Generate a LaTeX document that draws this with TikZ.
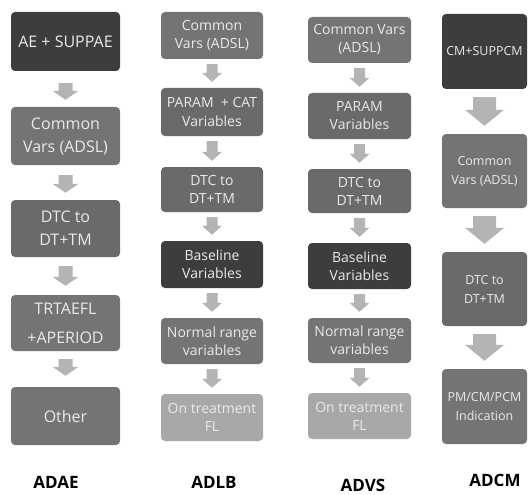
\documentclass[tikz,border=0pt]{standalone}
\usepackage{fontspec}
\setmainfont{Open Sans}
\usetikzlibrary{calc}
\definecolor{darkbox}{HTML}{3D3D3D}
\definecolor{midbox}{HTML}{747474}
\definecolor{midboxb}{HTML}{6A6A6A}
\definecolor{lightbox}{HTML}{A8A8A8}
\definecolor{arrowc}{HTML}{B4B4B4}
\definecolor{boxtext}{HTML}{EAEAEA}
\newcommand\barrow[7]{%
  \fill[arrowc] let \p1=(#1.south), \p2=(#2.north) in
    (\x1-#5,\y1-#3) -- (\x1+#5,\y1-#3) -- (\x1+#5,\y2+#4+#7) -- (\x1+#6,\y2+#4+#7)
    -- (\x1,\y2+#4) -- (\x1-#6,\y2+#4+#7) -- (\x1-#5,\y2+#4+#7) -- cycle;}
\begin{document}
\begin{tikzpicture}[x=1pt,y=-1pt,
  box/.style={rounded corners=4pt, inner sep=1pt, align=center, text=boxtext, draw=none},
  colA/.style={box, minimum width=109pt, font=\fontsize{16}{23}\selectfont},
  colB/.style={box, minimum width=102pt, font=\fontsize{14}{18}\selectfont},
  colC/.style={box, minimum width=103pt, font=\fontsize{14}{18}\selectfont},
  colD/.style={box, minimum width=85pt, font=\fontsize{12.5}{19}\selectfont},
  lbl/.style={font=\bfseries\fontsize{17}{20}\selectfont, text=black, inner sep=0pt}]
\useasboundingbox (0,0) rectangle (528,495);
% Column ADAE
\node[colA, fill=darkbox, minimum height=59pt] (a1) at (65.5,41.5) {AE + SUPPAE};
\node[colA, fill=midbox, minimum height=58pt] (a2) at (65.5,136) {Common\\Vars (ADSL)};
\node[colA, fill=midboxb, minimum height=57pt] (a3) at (65.5,228.5) {DTC to\\DT+TM};
\node[colA, fill=midbox, minimum height=56pt, font=\fontsize{16}{29}\selectfont] (a4) at (65.5,323) {TRTAEFL\\+APERIOD};
\node[colA, fill=midbox, minimum height=58pt] (a5) at (65.5,416) {Other};
% Column ADLB
\node[colB, fill=midbox, minimum height=47pt] (b1) at (212,35.5) {Common\\Vars (ADSL)};
\node[colB, fill=midboxb, minimum height=48pt] (b2) at (212,112) {PARAM \ + CAT\\Variables};
\node[colB, fill=midboxb, minimum height=45pt] (b3) at (212,189.5) {DTC to\\DT+TM};
\node[colB, fill=darkbox, minimum height=47pt] (b4) at (212,264.5) {Baseline\\Variables};
\node[colB, fill=midbox, minimum height=46pt] (b5) at (212,341) {Normal range\\variables};
\node[colB, fill=lightbox, minimum height=47pt] (b6) at (212,417.5) {On treatment\\FL};
% Column ADVS
\node[colC, fill=midbox, minimum height=46pt] (c1) at (359.5,40) {Common Vars\\(ADSL)};
\node[colC, fill=midboxb, minimum height=46pt] (c2) at (359.5,116) {PARAM\\Variables};
\node[colC, fill=midboxb, minimum height=44pt] (c3) at (359.5,191) {DTC to\\DT+TM};
\node[colC, fill=darkbox, minimum height=46pt] (c4) at (359.5,266) {Baseline\\Variables};
\node[colC, fill=midbox, minimum height=45pt] (c5) at (359.5,340.5) {Normal range\\variables};
\node[colC, fill=lightbox, minimum height=46pt] (c6) at (359.5,416) {On treatment\\FL};
% Column ADCM
\node[colD, fill=darkbox, minimum height=75pt] (d1) at (484.5,51.5) {CM+SUPPCM};
\node[colD, fill=midbox, minimum height=74pt] (d2) at (484.5,171) {Common\\Vars (ADSL)};
\node[colD, fill=midboxb, minimum height=74pt] (d3) at (484.5,289) {DTC to\\DT+TM};
\node[colD, fill=midbox, minimum height=75pt] (d4) at (484.5,406.5) {PM/CM/PCM\\Indication};
% Arrows
\barrow{a1}{a2}{12pt}{7pt}{7pt}{13pt}{9pt}
\barrow{a2}{a3}{10pt}{7pt}{7pt}{13pt}{9pt}
\barrow{a3}{a4}{9pt}{9pt}{7pt}{13pt}{9pt}
\barrow{a4}{a5}{8pt}{11pt}{7pt}{13pt}{9pt}
\foreach \u/\v in {b1/b2,b2/b3,b3/b4,b4/b5,b5/b6,c1/c2,c2/c3,c3/c4,c4/c5,c5/c6}{
  \barrow{\u}{\v}{5pt}{6pt}{5.5pt}{10pt}{9pt}
}
\foreach \u/\v in {d1/d2,d2/d3,d3/d4}{
  \barrow{\u}{\v}{8pt}{8pt}{11.5pt}{19.5pt}{16pt}
}
% Labels
\node[lbl] (la) at (56,482) {ADAE};
\node[lbl] (lb) at (214,482) {ADLB};
\node[lbl] (lc) at (363,485) {ADVS};
\node[lbl] (ld) at (495,480) {ADCM};
\end{tikzpicture}
\end{document}
